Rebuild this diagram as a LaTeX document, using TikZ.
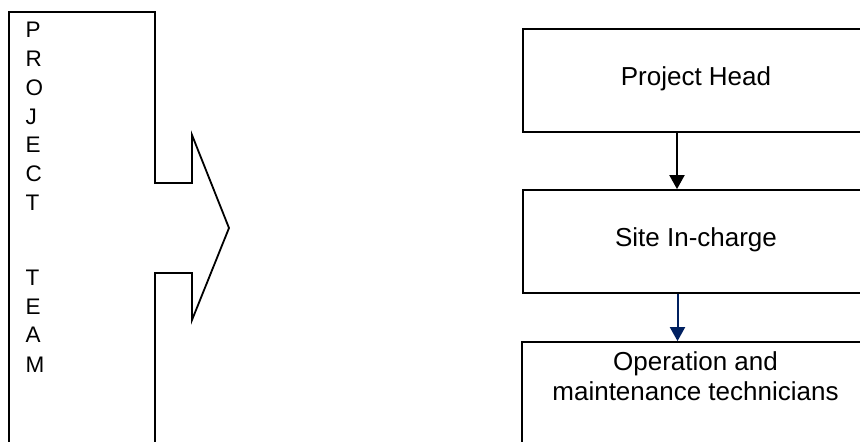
\documentclass[tikz,border=0pt]{standalone}
\usepackage{fontspec}
\setmainfont{Liberation Sans}
\usetikzlibrary{arrows.meta}
\definecolor{navyline}{RGB}{0,32,96}
\tikzset{
  outline/.style={draw=black, line width=1.8pt},
  box/.style={outline, rectangle, inner sep=0pt, minimum width=346pt},
  boxtext/.style={font=\fontsize{26}{30}\selectfont, inner sep=0pt,
    text height=18.6pt, text depth=8.8pt},
  letter/.style={font=\fontsize{22.5}{28}\selectfont, inner sep=0pt, anchor=west},
  link/.style={line width=2pt, -{Triangle[length=14pt,width=15pt]}},
}
\begin{document}
\begin{tikzpicture}[x=1pt, y=-1pt]
  \useasboundingbox (0,0) rectangle (860,442);
  \clip (0,0) rectangle (860,442);
  \fill[white] (0,0) rectangle (860,442);

  % notched arrow panel on the left
  \draw[outline, line join=miter]
    (9,12) -- (155,12) -- (155,183) -- (192,183) -- (192,135)
    -- (229,228) -- (192,320) -- (192,273) -- (155,273)
    -- (155,470) -- (9,470) -- cycle;

  % vertical title letters
  \foreach \ch/\yy [count=\i] in {P/30,R/59,O/88,J/117,E/145,C/174,T/203,
                                  T/278,E/307,A/335,M/365}
    \node[letter] (letter\i) at (25.5,\yy) {\ch};

  % hierarchy boxes
  \node[box, minimum height=103pt] (head) at (696,80.5) {};
  \node[boxtext] (headtext) at (head.center) {Project Head};

  \node[box, minimum height=103pt] (site) at (696,241.5) {};
  \node[boxtext] (sitetext) at (site.center) {Site In-charge};

  \node[box, minimum width=347pt, minimum height=128pt] (tech) at (695.5,406) {};
  \node[font=\fontsize{26}{30}\selectfont, align=center, inner sep=0pt,
        anchor=north] (techtext) at ([yshift=-10pt]tech.north) {Operation and\\maintenance technicians};

  % reporting lines
  \draw[link, black] ([xshift=-19pt]head.south) -- ([xshift=-19pt]site.north);
  \draw[link, navyline] ([xshift=-18.5pt]site.south) -- ([xshift=-18pt]tech.north);
\end{tikzpicture}
\end{document}
